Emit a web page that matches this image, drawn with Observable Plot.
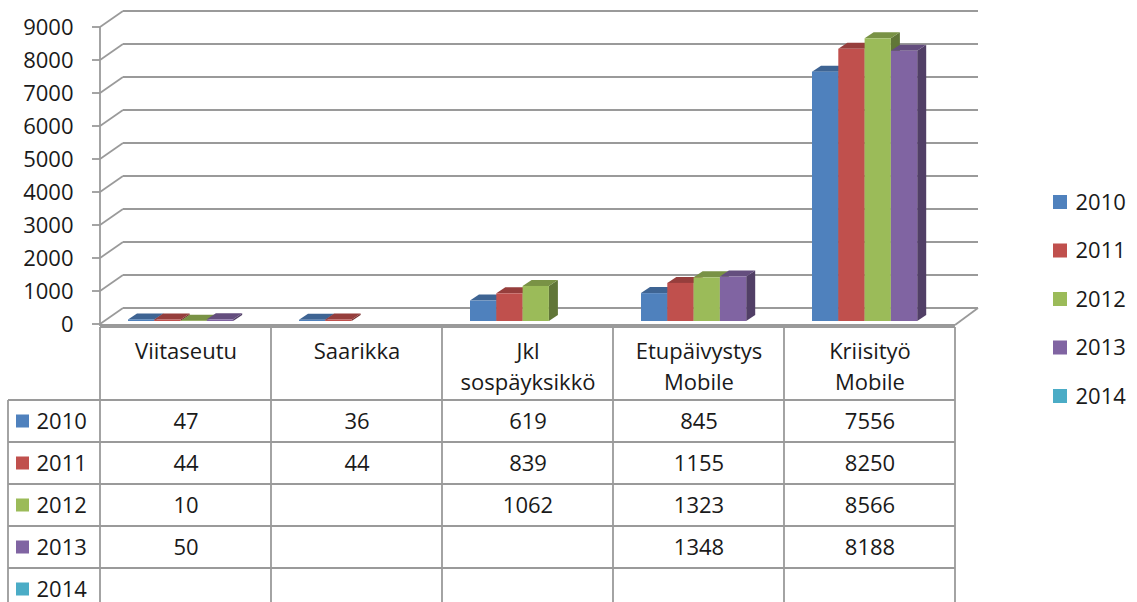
<!DOCTYPE html>
<html><head><meta charset="utf-8">
<script src="https://cdn.jsdelivr.net/npm/d3@7"></script>
<script src="https://cdn.jsdelivr.net/npm/@observablehq/plot@0.6"></script>
<style>
body{margin:0;background:#fff;}
#chart{position:relative;width:1137px;height:602px;overflow:hidden;background:#fff}
</style>
</head><body><div id="chart"></div>
<script>
// ---- data ----
const categories = ["Viitaseutu", "Saarikka", "Jkl sospäyksikkö", "Etupäivystys Mobile", "Kriisityö Mobile"];
const headerLabels = ["Viitaseutu", "Saarikka", "Jkl\nsospäyksikkö", "Etupäivystys\nMobile", "Kriisityö\nMobile"];
const years = ["2010", "2011", "2012", "2013", "2014"];
const values2010 = [47, 36, 619, 845, 7556];
const values2011 = [44, 44, 839, 1155, 8250];
const values2012 = [10, null, 1062, 1323, 8566];
const values2013 = [50, null, null, 1348, 8188];
const values2014 = [null, null, null, null, null];
const yTicks = [0, 1000, 2000, 3000, 4000, 5000, 6000, 7000, 8000, 9000];
const yearColors = ["#4F81BD", "#C0504D", "#9BBB59", "#8064A2", "#4BACC6"];

const series = [values2010, values2011, values2012, values2013, values2014];
const data = years.flatMap((yr, i) => categories.map((c, j) => ({year: yr, yi: i, category: c, value: series[i][j]})))
  .filter(d => d.value != null);

// ---- layout ----
const W = 1137, H = 602, mL = 100, mR = 182, mT = 27, mB = 278;
const bandW = (W - mL - mR) / categories.length;
const slotStart = 28, slotW = 26.3, barLift = 3, barDX = 9, barDY = 6;
const wallDX = 23, wallDY = 16;
const gridColor = "#9a9a9a";
const headerH = 73, rowH = 42, tableLeft = 8;
const textColor = "#1a1a1a";

function walls(index, {y}, values, dims) {
  const g = d3.create("svg:g").attr("fill", "none").attr("stroke", gridColor).attr("stroke-width", 1.8);
  const x0 = mL, x1 = W - mR;
  for (const t of yTicks) {
    const yy = y(t);
    g.append("line").attr("x1", x0 + wallDX).attr("x2", x1 + wallDX).attr("y1", yy - wallDY).attr("y2", yy - wallDY);
    g.append("line").attr("x1", x0).attr("x2", x0 + wallDX).attr("y1", yy).attr("y2", yy - wallDY);
    g.append("line").attr("x1", x0 - 8).attr("x2", x0).attr("y1", yy).attr("y2", yy);
  }
  g.append("line").attr("x1", x0).attr("x2", x0).attr("y1", y(yTicks[yTicks.length - 1])).attr("y2", y(0) + 2);
  g.append("line").attr("x1", x0).attr("x2", x1).attr("y1", y(0) + 1).attr("y2", y(0) + 1);
  g.append("line").attr("x1", x1).attr("x2", x1 + wallDX).attr("y1", y(0) + 1).attr("y2", y(0) - wallDY);
  return g.node();
}

function barFaces(index, {x, y, color}) {
  const g = d3.create("svg:g");
  const sorted = data.slice().sort((a, b) => categories.indexOf(a.category) - categories.indexOf(b.category) || a.yi - b.yi);
  for (const d of sorted) {
    const xl = x(d.category) + slotStart + d.yi * slotW, xr = xl + slotW;
    const yt = y(d.value) - barLift, yb = y(0) - barLift;
    const c = d3.color(color(d.year));
    g.append("path").attr("fill", c.darker(1.3).formatHex())
      .attr("d", `M${xr},${yt}L${xr + barDX},${yt - barDY}L${xr + barDX},${yb - barDY}L${xr},${yb}Z`);
    g.append("path").attr("fill", c.darker(0.7).formatHex())
      .attr("d", `M${xl},${yt}L${xr},${yt}L${xr + barDX},${yt - barDY}L${xl + barDX},${yt - barDY}Z`);
  }
  return g.node();
}

function tableGrid(index, {x, y, color}) {
  const g = d3.create("svg:g");
  const lines = g.append("g").attr("stroke", gridColor).attr("stroke-width", 1.8).attr("fill", "none");
  const top = y(0) + 3, hb = top + headerH, x1 = W - mR;
  lines.append("line").attr("x1", mL).attr("x2", x1).attr("y1", top).attr("y2", top);
  for (const c of categories) {
    const xs = x(c);
    lines.append("line").attr("x1", xs).attr("x2", xs).attr("y1", top).attr("y2", H);
  }
  lines.append("line").attr("x1", x1).attr("x2", x1).attr("y1", top).attr("y2", H);
  lines.append("line").attr("x1", tableLeft).attr("x2", tableLeft).attr("y1", hb).attr("y2", H);
  years.forEach((yr, i) => {
    const yy = hb + i * rowH;
    lines.append("line").attr("x1", tableLeft).attr("x2", x1).attr("y1", yy).attr("y2", yy);
    g.append("rect").attr("x", 16).attr("y", yy + rowH / 2 - 6.5).attr("width", 13).attr("height", 13).attr("fill", color(yr));
  });
  // legend swatches
  years.forEach((yr, i) => {
    g.append("rect").attr("x", 1053).attr("y", 202 + i * 48.5 - 7).attr("width", 14).attr("height", 14).attr("fill", color(yr));
  });
  return g.node();
}

const marks = [walls, barFaces];
years.forEach((yr, i) => {
  marks.push(Plot.barY(data.filter(d => d.year === yr), {
    x: "category", y: "value", fill: "year",
    insetLeft: slotStart + i * slotW, insetRight: bandW - slotStart - (i + 1) * slotW, dy: -barLift
  }));
});
marks.push(tableGrid);
marks.push(Plot.text(categories, {
  x: d => d, text: (d, i) => headerLabels[i], frameAnchor: "bottom", lineAnchor: "top", dy: 12, lineHeight: 1.43, fill: textColor
}));
years.forEach((yr, i) => {
  const rowC = 3 + headerH + i * rowH + rowH / 2;
  marks.push(Plot.text(data.filter(d => d.year === yr), {
    x: "category", text: d => String(d.value), frameAnchor: "bottom", lineAnchor: "middle", dy: rowC, fill: textColor
  }));
  marks.push(Plot.text([yr], {
    text: d => d, frameAnchor: "bottom-left", lineAnchor: "middle", dx: 36 - mL, dy: rowC, textAnchor: "start", fill: textColor
  }));
  marks.push(Plot.text([yr], {
    text: d => d, frameAnchor: "top-right", lineAnchor: "middle", dx: 1075 - (W - mR), dy: 202 + i * 48.5 - mT, textAnchor: "start", fill: textColor
  }));
});

const plot = Plot.plot({
  width: W, height: H,
  marginLeft: mL, marginRight: mR, marginTop: mT, marginBottom: mB,
  style: {fontFamily: "'Open Sans', Lato, sans-serif", fontSize: "22px", color: textColor, background: "#fff"},
  x: {domain: categories, padding: 0, axis: null},
  y: {domain: [0, 9000], ticks: yTicks, tickSize: 0, tickPadding: 27, tickFormat: d => String(d), label: null},
  color: {domain: years, range: yearColors},
  marks
});
document.getElementById("chart").appendChild(plot);
</script>
</body></html>
